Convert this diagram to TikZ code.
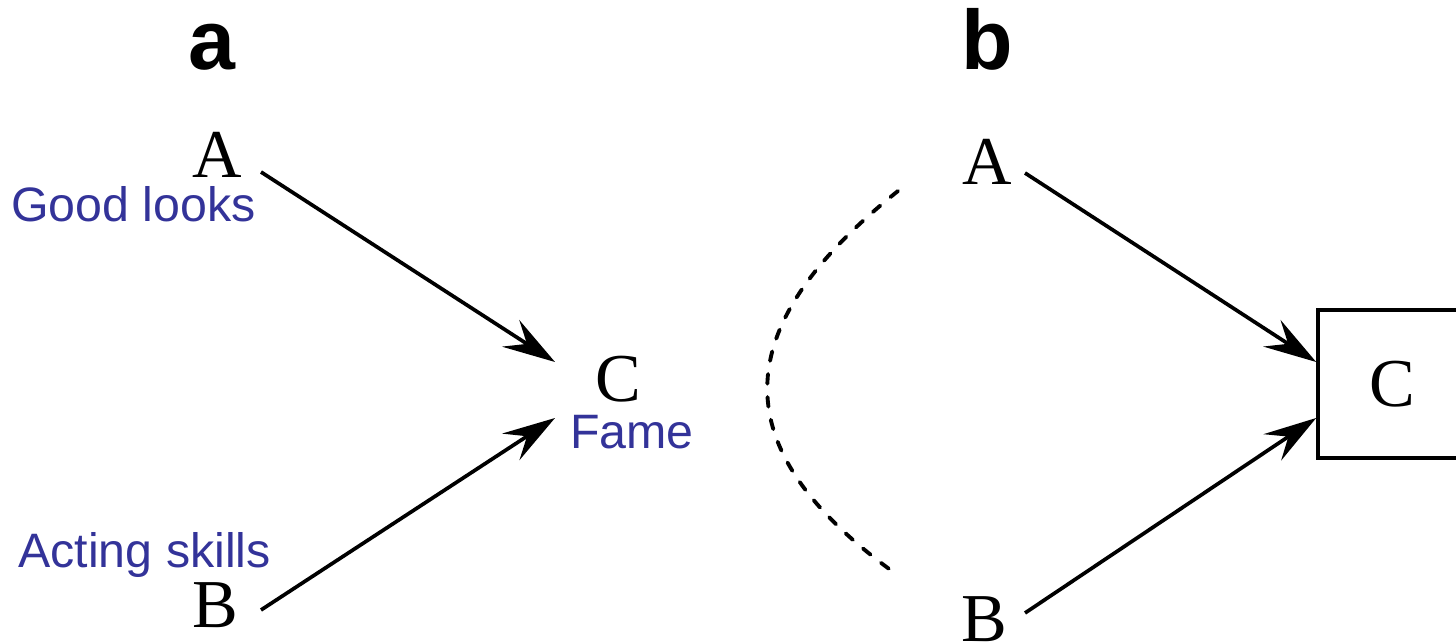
\documentclass[tikz,border=0pt]{standalone}
\usepackage{fontspec}
\setmainfont{Liberation Serif}
\newfontfamily\arialf{Liberation Sans}
\usetikzlibrary{arrows.meta,calc}
\definecolor{lblue}{RGB}{51,51,153}
\tikzset{
  letter/.style={font=\fontsize{39}{39}\selectfont, inner sep=0pt, anchor=base},
  panel/.style={font=\arialf\bfseries\fontsize{48}{48}\selectfont, inner sep=0pt, anchor=base},
  lbl/.style={font=\arialf\fontsize{27.5}{27.5}\selectfont, text=lblue, inner sep=0pt, anchor=base west},
  arr/.style={line width=2.1pt, -{Stealth[length=30pt,width=18pt,inset=11pt]}},
  dashcurve/.style={line width=2.2pt, line cap=round, dash pattern=on 5.5pt off 7.6pt},
  cbox/.style={draw, line width=2.1pt, minimum width=2.96cm, minimum height=2.96cm, inner sep=0pt, font=\fontsize{39}{39}\selectfont}
}
\begin{document}
\begin{tikzpicture}[x=0.02cm, y=-0.02cm]
\useasboundingbox (0,0) rectangle (1456,644);
% panel a
\node[panel] (pa) at (212,70) {a};
\node[letter] (Aa) at (217,178) {A};
\node[lbl] (ga) at (11,222) {Good looks};
\node[letter] (Ba) at (215,627) {B};
\node[lbl] (ac) at (18,567) {Acting skills};
\node[letter] (Ca) at (618,402) {C};
\node[lbl] (fa) at (570,449) {Fame};
\draw[arr] ($(Aa.base)+(44,-6)$) -- ($(Ca.base)+(-63,-40)$);
\draw[arr] ($(Ba.base)+(46,-17)$) -- ($(Ca.base)+(-63,16)$);
% panel b
\node[panel] (pb) at (987,70) {b};
\node[letter] (Ab) at (987,185) {A};
\node[letter] (Bb) at (984,641) {B};
\node[cbox] (Cb) at (1392,384) {C};
\draw[arr] ($(Ab.base)+(38,-12)$) -- ($(Cb.west)+(0,-22)$);
\draw[arr] ($(Bb.base)+(41,-28)$) -- ($(Cb.west)+(0,34)$);
\draw[dashcurve] (898,191) .. controls (724,330) and (724,450) .. (896,574);
\end{tikzpicture}
\end{document}
